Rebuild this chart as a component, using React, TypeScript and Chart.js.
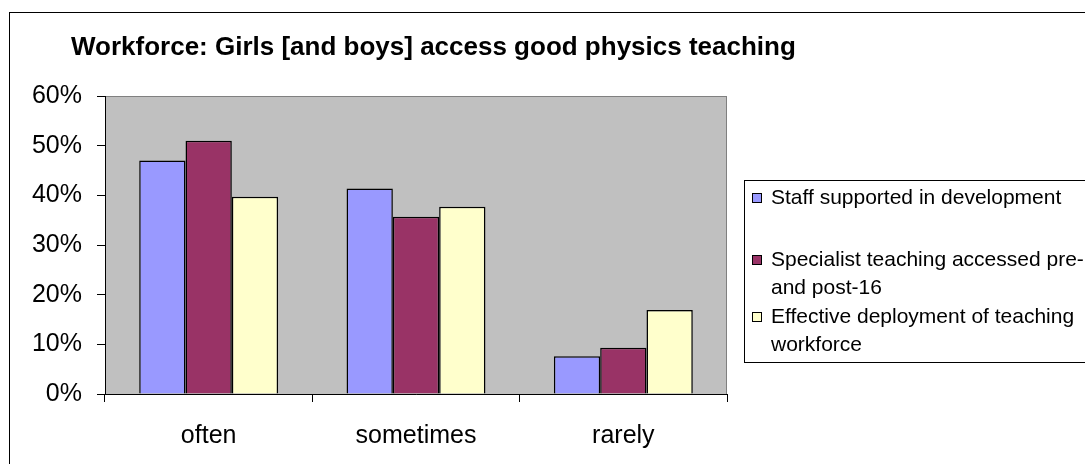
import React, { useEffect, useRef } from "react";
import { Chart, registerables } from "chart.js";

Chart.register(...registerables);

const TITLE = "Workforce: Girls [and boys] access good physics teaching";
const categories = ["often", "sometimes", "rarely"];
const seriesLabels = [
  "Staff supported in development",
  "Specialist teaching accessed pre- and post-16",
  "Effective deployment of teaching workforce",
];
const staffSupported = [47.0, 41.4, 7.6];
const specialistTeaching = [51.0, 35.7, 9.3];
const effectiveDeployment = [39.7, 37.7, 16.9];
const seriesColors = ["#9999FF", "#993366", "#FFFFCC"];
const yMin = 0;
const yMax = 60;
const yStep = 10;

const FONT = "'Liberation Sans', Arial, Helvetica, sans-serif";

const decorPlugin = {
  id: "decor",
  beforeDraw(chart: any) {
    const { ctx, chartArea } = chart;
    ctx.save();
    ctx.fillStyle = "#FFFFFF";
    ctx.fillRect(0, 0, chart.width, chart.height);
    // outer chart border (extends beyond the picture)
    ctx.strokeStyle = "#000000";
    ctx.lineWidth = 1;
    ctx.strokeRect(9.5, 12.5, 3000, 3000);
    // plot area
    ctx.fillStyle = "#C0C0C0";
    ctx.fillRect(chartArea.left, chartArea.top, chartArea.right - chartArea.left, chartArea.bottom - chartArea.top);
    ctx.strokeStyle = "#808080";
    ctx.strokeRect(chartArea.left + 0.5, chartArea.top + 0.5, chartArea.right - chartArea.left - 1, chartArea.bottom - chartArea.top);
    // title
    ctx.fillStyle = "#000000";
    ctx.font = `bold 26px ${FONT}`;
    ctx.textBaseline = "alphabetic";
    ctx.textAlign = "left";
    ctx.fillText(TITLE, 71, 55);
    ctx.restore();
  },
  afterDraw(chart: any) {
    const { ctx } = chart;
    ctx.save();
    // legend box
    ctx.fillStyle = "#FFFFFF";
    ctx.fillRect(744, 180, 2000, 183);
    ctx.strokeStyle = "#000000";
    ctx.lineWidth = 1;
    ctx.strokeRect(744.5, 180.5, 2000, 182);
    ctx.font = `21px ${FONT}`;
    ctx.textBaseline = "alphabetic";
    ctx.textAlign = "left";
    const firstBaselines = [204, 266, 323];
    const lineGap = 28;
    const maxW = 330;
    chart.data.datasets.forEach((ds: any, i: number) => {
      const words = String(ds.label).split(" ");
      const lines: string[] = [];
      let cur = "";
      words.forEach((w) => {
        const t = cur ? cur + " " + w : w;
        if (ctx.measureText(t).width > maxW && cur) {
          lines.push(cur);
          cur = w;
        } else cur = t;
      });
      if (cur) lines.push(cur);
      const b = firstBaselines[i];
      ctx.fillStyle = ds.backgroundColor;
      ctx.fillRect(752, b - 11, 10, 10);
      ctx.strokeStyle = "#000000";
      ctx.strokeRect(752.5, b - 10.5, 9, 9);
      ctx.fillStyle = "#000000";
      lines.forEach((ln, k) => ctx.fillText(ln, 771, b + k * lineGap));
    });
    ctx.restore();
  },
};

export default function App() {
  const ref = useRef<HTMLCanvasElement | null>(null);
  useEffect(() => {
    if (!ref.current) return;
    const series = [staffSupported, specialistTeaching, effectiveDeployment];
    const chart = new Chart(ref.current, {
      type: "bar",
      data: {
        labels: categories,
        datasets: series.map((d, i) => ({
          label: seriesLabels[i],
          data: d,
          backgroundColor: seriesColors[i],
          borderColor: "#000000",
          borderWidth: 1.5,
          categoryPercentage: 0.67,
          barPercentage: 1.0,
        })),
      },
      options: {
        animation: false,
        responsive: false,
        devicePixelRatio: 1,
        layout: { padding: { left: 0, top: 96, right: 358, bottom: 0 } },
        plugins: {
          legend: { display: false },
          title: { display: false },
          tooltip: { enabled: false },
        },
        scales: {
          x: {
            afterFit(scale: any) {
              scale.height = 70;
            },
            grid: { display: true, drawOnChartArea: false, drawTicks: true, tickLength: 8, color: "#000000", offset: true },
            border: { display: true, color: "#000000", width: 1 },
            ticks: { color: "#000000", padding: 19, font: { family: FONT, size: 25 } },
          },
          y: {
            min: yMin,
            max: yMax,
            afterFit(scale: any) {
              scale.width = 105;
            },
            grid: { display: true, drawOnChartArea: false, drawTicks: true, tickLength: 8, color: "#000000" },
            border: { display: true, color: "#000000", width: 1 },
            ticks: {
              stepSize: yStep,
              color: "#000000",
              padding: 15,
              font: { family: FONT, size: 25 },
              callback: (v: any) => `${v}%`,
            },
          },
        },
      },
      plugins: [decorPlugin],
    });
    return () => chart.destroy();
  }, []);
  return (
    <div style={{ position: "fixed", left: 0, top: 0, width: 1085, height: 464, overflow: "hidden", background: "#fff" }}>
      <canvas ref={ref} width={1085} height={464} style={{ display: "block", width: 1085, height: 464 }} />
    </div>
  );
}
